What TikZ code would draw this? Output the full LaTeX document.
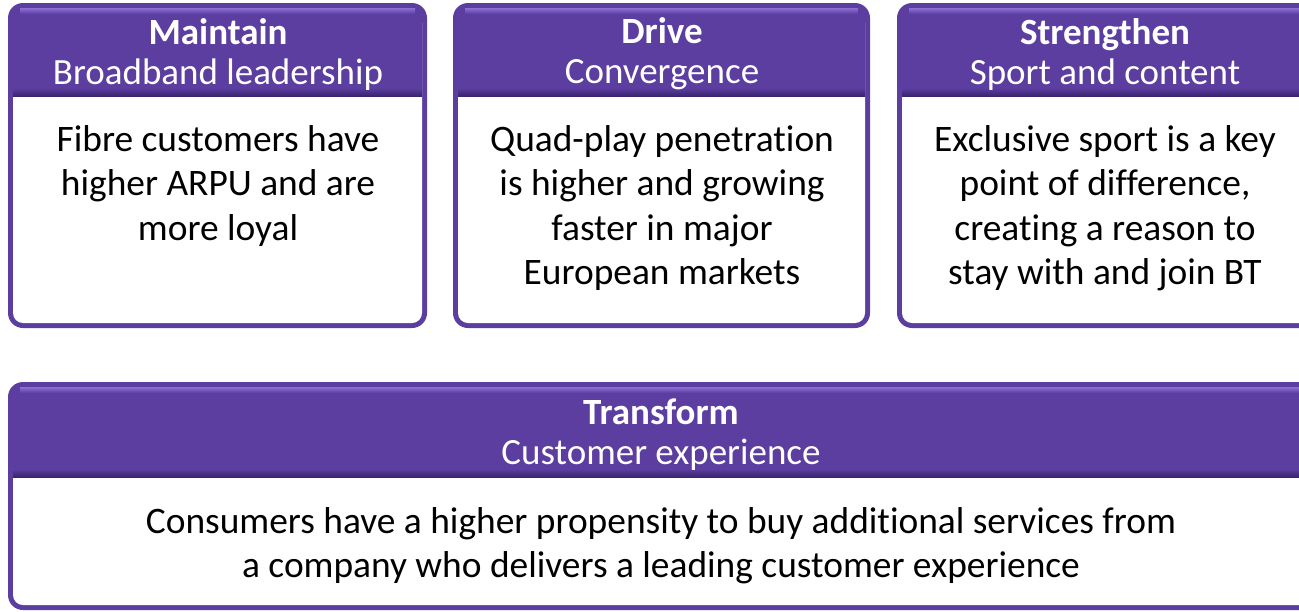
\documentclass[tikz,border=0pt]{standalone}
\usepackage{fontspec}
\setmainfont[Ligatures=NoCommon]{Carlito}
\definecolor{btpurple}{RGB}{92,61,160}
\definecolor{btshine}{RGB}{140,112,214}
\definecolor{btshade}{RGB}{58,36,112}

\begin{document}
\begin{tikzpicture}[x=1pt,y=-1pt,
  frame/.style={fill=btpurple,rounded corners=15pt},
  body/.style={fill=white,rounded corners=10pt},
  head/.style={fill=btpurple},
  shine/.style={top color=btshine,bottom color=btpurple},
  shade/.style={top color=btpurple,bottom color=btshade},
  headtext/.style={text=white,align=center,inner sep=0pt,font=\fontsize{37}{40}\selectfont},
  bodytext/.style={text=black,align=center,inner sep=0pt,anchor=north,font=\fontsize{37.4}{44.5}\selectfont}]
\useasboundingbox (0,0) rectangle (1299,611);
\clip (0,0) rectangle (1299,611);
% top row
\fill[frame] (8,3) rectangle (427,328);
\fill[body] (13,13) rectangle (422,323);
\fill[head] (13,8) rectangle (422,96);
\fill[shine] (20,8) rectangle (415,14);
\fill[shade] (13,88) rectangle (422,96);
\fill[frame] (453,3) rectangle (870,328);
\fill[body] (458,13) rectangle (865,323);
\fill[head] (458,8) rectangle (865,96);
\fill[shine] (465,8) rectangle (858,14);
\fill[shade] (458,88) rectangle (865,96);
\fill[frame] (897,3) rectangle (1316,328);
\fill[body] (902,13) rectangle (1311,323);
\fill[head] (902,8) rectangle (1311,96);
\fill[shine] (909,8) rectangle (1304,14);
\fill[shade] (902,88) rectangle (1311,96);
% bottom row
\fill[frame] (8,382) rectangle (1316,610);
\fill[body] (13,392) rectangle (1311,605);
\fill[head] (13,387) rectangle (1311,477);
\fill[shine] (20,387) rectangle (1304,393);
\fill[shade] (13,469) rectangle (1311,477);
% labels
\node[headtext] (maintain) at (218,54) {\textbf{Maintain}\\Broadband leadership};
\node[headtext] (drive) at (662,54) {\textbf{Drive}\\Convergence};
\node[headtext] (strengthen) at (1105,54) {\textbf{Strengthen}\\Sport and content};
\node[headtext] (transform) at (661,435) {\textbf{Transform}\\Customer experience};
\node[bodytext] (maintaintext) at (218,125) {Fibre customers have\\higher ARPU and are\\more loyal};
\node[bodytext] (drivetext) at (662,125) {Quad-play penetration\\is higher and growing\\faster in major\\European markets};
\node[bodytext] (strengthentext) at (1105,125) {Exclusive sport is a key\\point of difference,\\creating a reason to\\stay with and join BT};
\node[bodytext] (transformtext) at (661,507) {Consumers have a higher propensity to buy additional services from\\a company who delivers a leading customer experience};
\end{tikzpicture}
\end{document}
